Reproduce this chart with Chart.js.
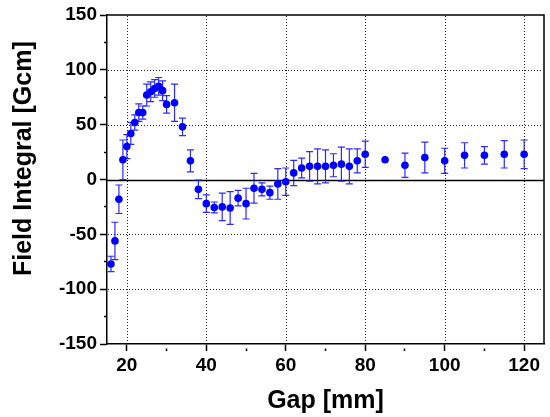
<!DOCTYPE html>
<html><head><meta charset="utf-8">
<script src="https://cdn.jsdelivr.net/npm/chart.js@4/dist/chart.umd.min.js"></script>
<style>html,body{margin:0;padding:0;background:#fff}</style>
</head><body>
<canvas id="c" width="550" height="417"></canvas>
<script>
// Data
const gaps = [16,17,18,19,20,21,22,23,24,25,26,27,28,29,30,32,34,36,38,40,42,44,46,48,50,52,54,56,58,60,62,64,66,68,70,72,74,76,78,80,85,90,95,100,105,110,115,120];
const fieldIntegral = [-77,-56,-18,18,30,42,52,61,61,77,80,83,85,81,68.5,70,48,17,-9,-22,-25.5,-25,-26,-17,-22,-8,-9,-12,-4,-2,6,10.5,12,12,12,13,14,12,17,23,18,13,20,17,22,22,23,23];
const errors = [7,17,13,18,11,10,7,8,6,10,9,8,8,9,8,17,8,10,8.5,8,5,12.5,15,7,14,13.5,6,6,14,12.5,11.5,9,13.5,16,15,10.5,15.5,16,11,12,0,11,14,11.5,11.5,8,12.5,13];
const xTickLabels = [20,40,60,80,100,120];
const yTickLabels = [-150,-100,-50,0,50,100,150];
const xTitle = 'Gap [mm]';
const yTitle = 'Field Integral [Gcm]';

const FONT = "'Liberation Sans', Arial, sans-serif";

const isMajorX = v => xTickLabels.includes(v);
const isMajorY = v => yTickLabels.includes(v);

// dotted grid (drawn as 1px dots at the scales' major tick positions), zero line
const gridPlugin = {
  id: 'dotGrid',
  beforeDatasetsDraw(chart) {
    const {ctx, chartArea: a, scales: {x, y}} = chart;
    ctx.save();
    ctx.fillStyle = '#222';
    x.ticks.forEach(t => {
      if (!isMajorX(t.value)) return;
      const px = Math.round(x.getPixelForValue(t.value));
      for (let py = Math.ceil(a.top) + 1; py < a.bottom - 1; py += 3) ctx.fillRect(px, py, 1, 1);
    });
    y.ticks.forEach(t => {
      const v = t.value;
      if (!isMajorY(v) || v === 0 || Math.abs(v) === 150) return;
      const py = Math.round(y.getPixelForValue(v));
      for (let px = Math.ceil(a.left) + 1; px < a.right - 1; px += 3) ctx.fillRect(px, py, 1, 1);
    });
    const y0 = Math.round(y.getPixelForValue(0)) + 0.5;
    ctx.strokeStyle = '#000';
    ctx.lineWidth = 1.5;
    ctx.beginPath();
    ctx.moveTo(a.left, y0); ctx.lineTo(a.right, y0);
    ctx.stroke();
    ctx.restore();
  }
};

const errorBarPlugin = {
  id: 'errorBars',
  beforeDatasetsDraw(chart) {
    const {ctx, scales: {x, y}} = chart;
    ctx.save();
    ctx.strokeStyle = 'rgba(20,20,255,0.9)';
    ctx.lineWidth = 1.2;
    const cap = 3.5;
    gaps.forEach((g, i) => {
      const e = errors[i];
      if (!e) return;
      const px = x.getPixelForValue(g);
      const pt = y.getPixelForValue(fieldIntegral[i] + e);
      const pb = y.getPixelForValue(fieldIntegral[i] - e);
      ctx.beginPath();
      ctx.moveTo(px, pt); ctx.lineTo(px, pb);
      ctx.moveTo(px - cap, pt); ctx.lineTo(px + cap, pt);
      ctx.moveTo(px - cap, pb); ctx.lineTo(px + cap, pb);
      ctx.stroke();
    });
    ctx.restore();
  }
};

// plot frame (top/right)
const framePlugin = {
  id: 'frame',
  afterDraw(chart) {
    const {ctx, chartArea: a} = chart;
    ctx.save();
    ctx.strokeStyle = '#000';
    ctx.lineWidth = 1.5;
    ctx.beginPath();
    ctx.moveTo(a.left, a.top); ctx.lineTo(a.right, a.top); ctx.lineTo(a.right, a.bottom);
    ctx.stroke();
    ctx.restore();
  }
};

// ticks every `step` inside the scale range
function stepTicks(s, step) {
  const out = [];
  for (let v = Math.ceil(s.min / step) * step; v <= s.max + 1e-9; v += step) out.push({value: v});
  s.ticks = out;
}

const chart = new Chart(document.getElementById('c'), {
  type: 'scatter',
  data: {
    datasets: [{
      data: gaps.map((g, i) => ({x: g, y: fieldIntegral[i]})),
      backgroundColor: '#0000ff',
      borderColor: '#0000ff',
      borderWidth: 0,
      pointRadius: 3.8,
      pointHoverRadius: 3.8
    }]
  },
  options: {
    responsive: false,
    animation: false,
    devicePixelRatio: 1,
    layout: {padding: {left: 0, right: 6, top: 15, bottom: 0}},
    plugins: {legend: {display: false}, tooltip: {enabled: false}},
    scales: {
      x: {
        type: 'linear', min: 15, max: 125,
        afterBuildTicks: s => stepTicks(s, 10),
        afterFit: s => { s.height = 73; },
        ticks: {
          autoSkip: false, maxRotation: 0, padding: 3, color: '#000',
          font: {family: FONT, size: 19, weight: 'bold'},
          callback: v => isMajorX(v) ? String(v) : ''
        },
        grid: {
          drawOnChartArea: false,
          color: 'rgba(0,0,0,0)',
          tickColor: '#000', tickLength: 7, tickWidth: 1.5,
          tickBorderDash: c => (c.tick && isMajorX(c.tick.value)) ? [] : [0, 4, 3, 100]
        },
        border: {display: true, color: '#000', width: 1.5},
        title: {display: true, text: xTitle, color: '#000', font: {family: FONT, size: 25, weight: 'bold'}, padding: {top: 0, bottom: 1}}
      },
      y: {
        type: 'linear', min: -150, max: 150,
        afterBuildTicks: s => stepTicks(s, 25),
        afterFit: s => { s.width = 107; },
        ticks: {
          autoSkip: false, padding: 3, color: '#000',
          font: {family: FONT, size: 19, weight: 'bold'},
          callback: v => isMajorY(v) ? String(v) : ''
        },
        grid: {
          drawOnChartArea: false,
          color: 'rgba(0,0,0,0)',
          tickColor: '#000', tickLength: 7, tickWidth: 1.5,
          tickBorderDash: c => (c.tick && isMajorY(c.tick.value)) ? [] : [0, 4, 3, 100]
        },
        border: {display: true, color: '#000', width: 1.5},
        title: {display: true, text: '\u00A0\u00A0\u00A0\u00A0\u00A0\u00A0' + yTitle, color: '#000', font: {family: FONT, size: 25, weight: 'bold'}, padding: {top: 9, bottom: 0}}
      }
    }
  },
  plugins: [gridPlugin, errorBarPlugin, framePlugin]
});
</script>
</body></html>
